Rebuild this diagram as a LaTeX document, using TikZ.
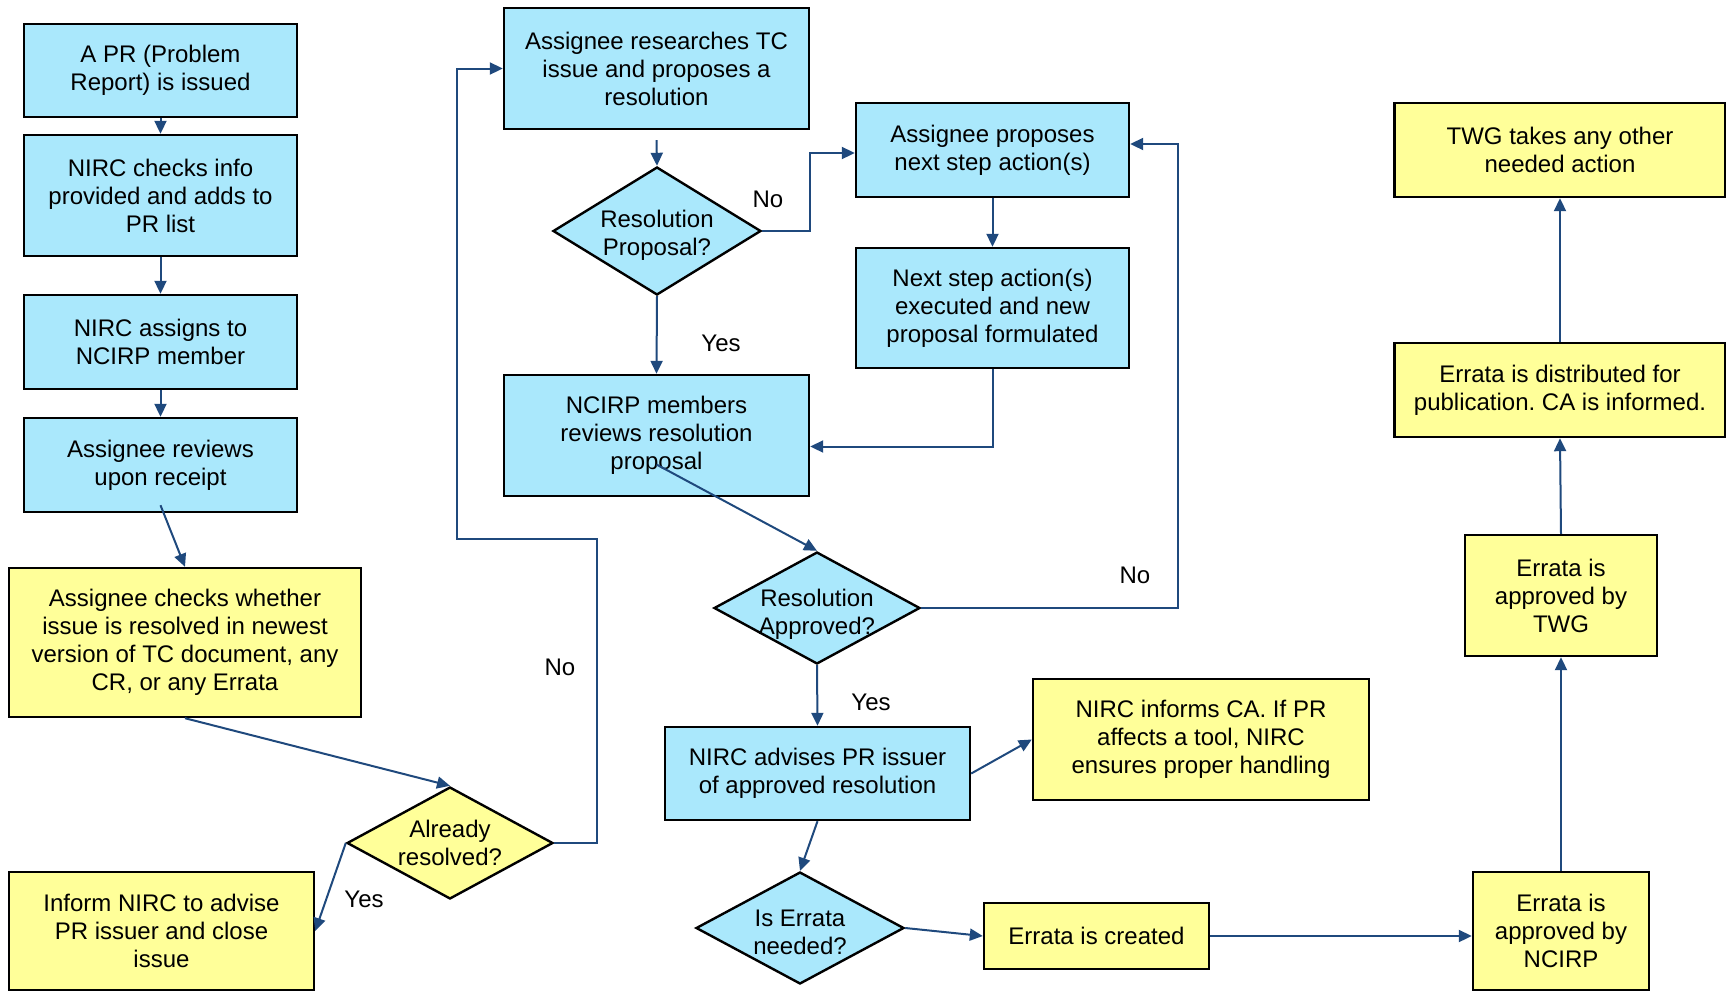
\documentclass[tikz,border=0pt]{standalone}
\usepackage{fontspec}
\setmainfont{Liberation Sans}
\usepackage{xcolor}
\usetikzlibrary{shapes.geometric,positioning,arrows.meta,calc}
\definecolor{boxblue}{RGB}{170,232,252}
\definecolor{boxyellow}{RGB}{255,255,153}
\definecolor{flowblue}{RGB}{31,73,125}
\frenchspacing
\begin{document}
\begin{tikzpicture}[x=0.5pt, y=-0.5pt,
  every node/.style={font=\fontsize{12}{14}\selectfont},
  bluebox/.style={draw, line width=1.2pt, rectangle, align=center, fill=boxblue, inner sep=2pt},
  yelbox/.style={draw, line width=1.2pt, rectangle, align=center, fill=boxyellow, inner sep=2pt},
  decision/.style={draw, line width=1.2pt, diamond, align=center, inner sep=-5pt, shape aspect=1.8},
  ar/.style={-{Triangle[length=6.5pt, width=6pt]}, line width=1pt, draw=flowblue},
  lab/.style={inner sep=1pt},
]
\useasboundingbox (0,0) rectangle (1726,992);
% left column
\node[bluebox, minimum width=136.5pt, minimum height=46.5pt] (pr)  at (160.5,70.5)  {A PR (Problem\\Report) is issued};
\node[bluebox, minimum width=136.5pt, minimum height=60.5pt] (chk) at (160.5,195.5) {NIRC checks info\\provided and adds to\\PR list};
\node[bluebox, minimum width=136.5pt, minimum height=47pt]   (asg) at (160.5,342)   {NIRC assigns to\\NCIRP member};
\node[bluebox, minimum width=136.5pt, minimum height=47pt]   (rev) at (160.5,465)   {Assignee reviews\\upon receipt};
\node[yelbox, minimum width=176pt, minimum height=74.5pt]    (whe) at (185,642.5)   {Assignee checks whether\\issue is resolved in newest\\version of TC document, any\\CR, or any Errata};
\node[decision, fill=boxyellow, minimum width=103pt, minimum height=56pt] (alr) at (450,843) {Already\\resolved?};
\node[yelbox, minimum width=152.5pt, minimum height=59pt]    (inf) at (161.5,931)   {Inform NIRC to advise\\PR issuer and close\\issue};
% middle columns
\node[bluebox, minimum width=152.5pt, minimum height=60.5pt] (res) at (656.5,68.5)  {Assignee researches TC\\issue and proposes a\\resolution};
\node[decision, fill=boxblue, text height=27pt, minimum width=104pt, minimum height=64pt] (rp) at (657,231) {Resolution\\Proposal?};
\node[bluebox, minimum width=136.5pt, minimum height=47pt]   (prop) at (992.5,150)  {Assignee proposes\\next step action(s)};
\node[bluebox, minimum width=136.5pt, minimum height=60pt]   (nxt) at (992.5,308)   {Next step action(s)\\executed and new\\proposal formulated};
\node[bluebox, minimum width=152.5pt, minimum height=60.5pt] (ncirp) at (656.5,435.5) {NCIRP members\\reviews resolution\\proposal};
\node[decision, fill=boxblue, text height=29pt, minimum width=103pt, minimum height=56pt] (ra) at (817,608) {Resolution\\Approved?};
\node[bluebox, minimum width=152.5pt, minimum height=46.5pt] (adv) at (817.5,773.5) {NIRC advises PR issuer\\of approved resolution};
\node[yelbox, minimum width=168pt, minimum height=60.5pt]    (ca)  at (1201,739.5)  {NIRC informs CA. If PR\\affects a tool, NIRC\\ensures proper handling};
\node[decision, fill=boxblue, text height=27pt, minimum width=104pt, minimum height=56pt] (ie) at (800,928) {Is Errata\\needed?};
\node[yelbox, minimum width=112.5pt, minimum height=33pt]    (crt) at (1096.5,936)  {Errata is created};
% right column
\node[yelbox, minimum width=88pt, minimum height=59pt]       (apn) at (1561,931)    {Errata is\\approved by\\NCIRP};
\node[yelbox, minimum width=96pt, minimum height=60.5pt]     (apt) at (1561,595.5)  {Errata is\\approved by\\TWG};
\node[yelbox, minimum width=165.5pt, minimum height=47pt]    (dist) at (1560,390)   {Errata is distributed for\\publication. CA is informed.};
\node[yelbox, minimum width=165.5pt, minimum height=47pt]    (twg) at (1560,150)    {TWG takes any other\\needed action};
% connectors
\draw[ar] (pr) -- (chk);
\draw[ar] (chk) -- (asg);
\draw[ar] (asg) -- (rev);
\draw[ar] ($(rev.south)+(0,-8)$) -- (whe.north);
\draw[ar] (whe.south) -- (alr.north);
\draw[ar] (alr.west) -- (inf.east);
\draw[ar] (alr.east) -| (597,539) -- (457,539) |- (res.west);
\draw[ar] ($(res.south)+(0,10)$) -- (rp.north);
\draw[ar] (rp.east) -- ++(48,0) |- ($(prop.west)+(0,3)$);
\draw[ar] (rp.south) -- (ncirp.north);
\draw[ar] (prop) -- (nxt);
\draw[ar] (nxt.south) |- ($(ncirp.east)+(0,11)$);
\draw[ar] ($(ncirp.center)+(0,29)$) -- (ra.north);
\draw[ar] (ra.east) -- ++(257,0) |- ($(prop.east)+(0,-6)$);
\draw[ar] (ra.south) -- (adv.north);
\draw[ar] (adv.east) -- (ca.west);
\draw[ar] (adv.south) -- (ie.north);
\draw[ar] (ie.east) -- (crt.west);
\draw[ar] (crt.east) -- (crt.east -| apn.west);
\draw[ar] (apn.north) -- (apt.south);
\draw[ar] (apt.north) -- (dist.south);
\draw[ar] (dist.north) -- (twg.south);
% labels
\node[lab] (yes1) at (364,899) {Yes};
\node[lab] (no1)  at (560,667) {No};
\node[lab] (no2)  at (768,199) {No};
\node[lab] (yes2) at (721,343) {Yes};
\node[lab] (no3)  at (1135,575) {No};
\node[lab] (yes3) at (871,702) {Yes};
\end{tikzpicture}
\end{document}
